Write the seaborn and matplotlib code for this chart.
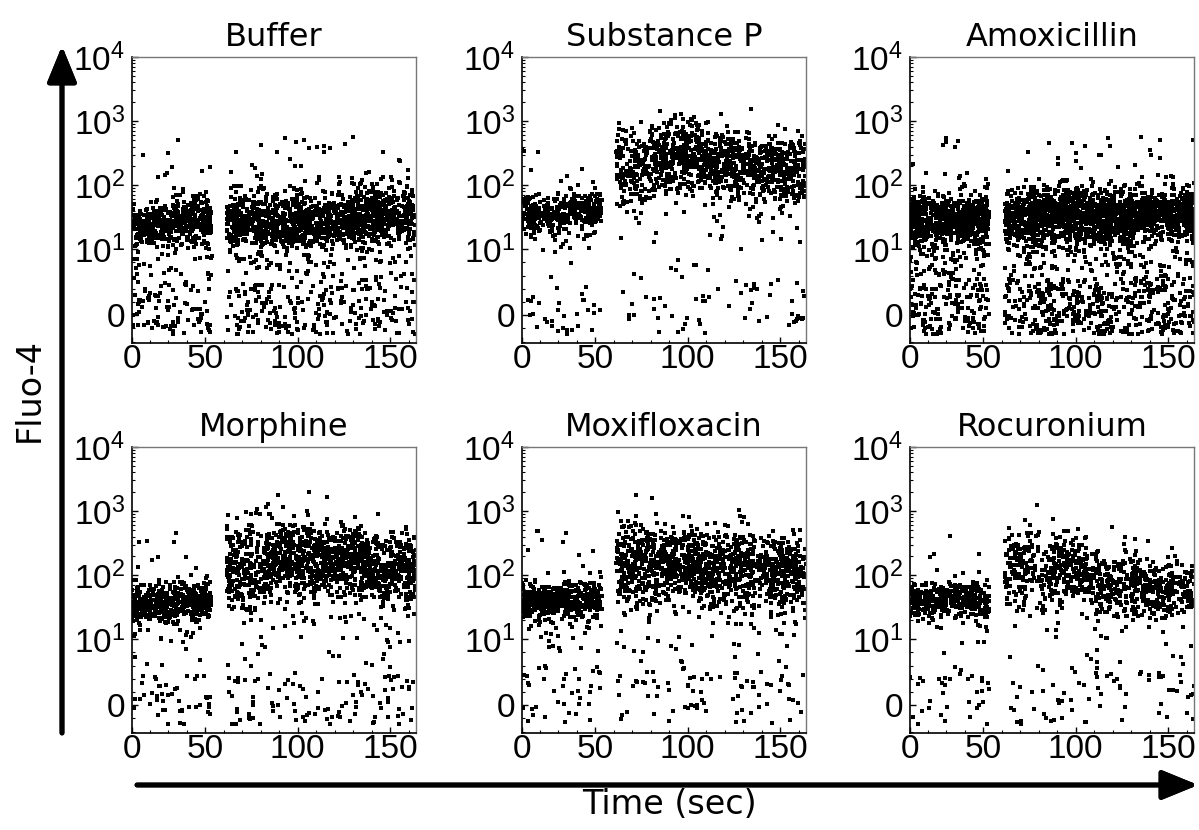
import numpy as np
import pandas as pd
import matplotlib
matplotlib.use("Agg")
import matplotlib.pyplot as plt
import matplotlib.ticker as ticker
import seaborn as sns

sns.set_style("ticks", {"xtick.direction": "in", "ytick.direction": "in"})
plt.rcParams["font.family"] = ["Liberation Sans", "DejaVu Sans"]
plt.rcParams["mathtext.fontset"] = "custom"
plt.rcParams["mathtext.rm"] = "Liberation Sans"
plt.rcParams["text.color"] = "black"
plt.rcParams["xtick.color"] = "black"
plt.rcParams["ytick.color"] = "black"

# panels and time bins (sec): two before the stimulus, four after it
panels = ["Buffer", "Substance P", "Amoxicillin", "Morphine", "Moxifloxacin", "Rocuronium"]
bin_start = [10.5, 31.5, 61.5, 82.5, 106.5, 135]
bin_end = [31.5, 53.5, 82.5, 106.5, 135, 164]

# per panel, per time bin: main population level (log10 Fluo-4), its spread,
# number of events in it, events scattered low (near 0) and high outliers
band_level = [
    [1.39, 1.46, 1.42, 1.42, 1.47, 1.51],
    [1.55, 1.58, 2.30, 2.45, 2.35, 2.26],
    [1.46, 1.48, 1.48, 1.55, 1.51, 1.58],
    [1.55, 1.58, 2.09, 2.30, 2.22, 2.09],
    [1.58, 1.61, 2.20, 2.20, 2.09, 2.05],
    [1.60, 1.61, 2.14, 2.07, 1.86, 1.77],
]
band_spread = [
    [0.17, 0.19, 0.20, 0.21, 0.21, 0.22],
    [0.14, 0.16, 0.32, 0.28, 0.28, 0.28],
    [0.19, 0.19, 0.20, 0.20, 0.19, 0.20],
    [0.15, 0.16, 0.34, 0.30, 0.30, 0.28],
    [0.14, 0.16, 0.34, 0.30, 0.30, 0.28],
    [0.14, 0.15, 0.30, 0.28, 0.25, 0.23],
]
band_count = [
    [240, 260, 260, 300, 350, 370],
    [175, 195, 195, 300, 320, 310],
    [330, 340, 330, 430, 500, 470],
    [220, 235, 235, 325, 370, 355],
    [220, 235, 270, 310, 350, 325],
    [180, 185, 155, 215, 230, 230],
]
low_count = [
    [60, 60, 65, 75, 85, 80],
    [20, 22, 14, 22, 28, 32],
    [110, 110, 115, 145, 175, 165],
    [30, 32, 32, 38, 45, 45],
    [26, 28, 28, 32, 36, 36],
    [22, 22, 16, 24, 28, 28],
]
high_count = [
    [5, 5, 12, 12, 14, 15],
    [4, 5, 0, 0, 0, 0],
    [6, 6, 6, 8, 8, 9],
    [5, 6, 0, 0, 0, 0],
    [5, 6, 0, 0, 0, 0],
    [3, 4, 2, 2, 2, 2],
]

LINSCALE = 0.928
LIN = LINSCALE / 0.9  # decades taken by 0..10 on the symlog axis


def to_value(u):
    return np.where(u > LIN, 10 ** (u - LIN + 1), u / LIN * 10)


def to_disp(logv):
    return LIN + logv - 1


rng = np.random.default_rng(7)
frames = []
for p, name in enumerate(panels):
    for b in range(6):
        t0, t1 = bin_start[b], bin_end[b]
        c, sd = band_level[p][b], band_spread[p][b]
        nb, nl, nh = band_count[p][b], low_count[p][b], high_count[p][b]
        band = 10 ** rng.normal(c, sd, nb)
        n_wide = (2 * nl) // 3
        low = np.concatenate([
            to_value(rng.uniform(-0.3, to_disp(c) - 0.3, n_wide)),
            to_value(rng.uniform(-0.3, 0.5, nl - n_wide)),
        ])
        high = 10 ** rng.uniform(c + 0.35, max(2.75, c + 0.6), nh)
        vals = np.concatenate([band, low, high])
        times = rng.uniform(t0, t1, len(vals))
        frames.append(pd.DataFrame({"panel": name, "time": times, "fluo": vals}))
df = pd.concat(frames, ignore_index=True)

W, H = 1199, 830
fig = plt.figure(figsize=(W / 100, H / 100), dpi=100)
col_left = [132, 522, 910]
row_top = [57, 447]
aw, ah = 284, 286

ytick_vals = [0, 10, 100, 1000, 10000]
ytick_text = ["0", r"$\mathregular{10^1}$", r"$\mathregular{10^2}$",
              r"$\mathregular{10^3}$", r"$\mathregular{10^4}$"]
yminor = list(range(-4, 10, 2))
for d in [10, 100, 1000]:
    yminor += [d * k for k in range(2, 10)]

x_lo, x_hi = 10.5, 164

for i, name in enumerate(panels):
    r, c = divmod(i, 3)
    ax = fig.add_axes([col_left[c] / W, 1 - (row_top[r] + ah) / H, aw / W, ah / H])
    sns.scatterplot(data=df[df["panel"] == name], x="time", y="fluo", ax=ax,
                    color="black", s=6, marker="s", linewidth=0, legend=False)
    ax.set_yscale("symlog", linthresh=10, linscale=LINSCALE)
    ax.set_ylim(-4.2, 10000)
    ax.set_xlim(x_lo, x_hi)
    ax.set_yticks(ytick_vals)
    ax.set_yticklabels(ytick_text)
    ax.yaxis.set_minor_locator(ticker.FixedLocator(yminor))
    ax.yaxis.set_minor_formatter(ticker.NullFormatter())
    # the time axis starts at the left edge, labelled 0 as in the source figure
    ax.set_xticks([x_lo, 50, 100, 150])
    ax.set_xticklabels(["0", "50", "100", "150"])
    ax.xaxis.set_minor_locator(ticker.MultipleLocator(10))
    ax.tick_params(which="major", length=4, width=1, labelsize=24, pad=5,
                   labelcolor="black")
    ax.tick_params(which="minor", length=2, width=0.8)
    ax.tick_params(axis="x", pad=1)
    ax.set_xlabel("")
    ax.set_ylabel("")
    ax.set_title(name, fontsize=23, pad=8, family="DejaVu Sans", color="black")
    for s in ["left", "bottom"]:
        ax.spines[s].set_color("black")
        ax.spines[s].set_linewidth(1.2)
    for s in ["top", "right"]:
        ax.spines[s].set_color("#777777")
        ax.spines[s].set_linewidth(1)

# big axis arrows
arrow = dict(arrowstyle="-|>,head_length=1.1,head_width=0.45", lw=3.5,
             color="black", shrinkA=0, shrinkB=0, mutation_scale=20)
fig.add_artist(plt.annotate("", xy=(62, H - 46), xytext=(62, H - 733),
                            xycoords="figure pixels", arrowprops=arrow))
fig.add_artist(plt.annotate("", xy=(1198, H - 785), xytext=(137, H - 785),
                            xycoords="figure pixels", arrowprops=arrow))
fig.text(29 / W, 1 - 390 / H, "Fluo-4", rotation=90, fontsize=24,
         family="DejaVu Sans", color="black", ha="center", va="center")
fig.text(669 / W, 1 - 804 / H, "Time (sec)", fontsize=24,
         family="DejaVu Sans", color="black", ha="center", va="center")

plt.savefig("out.png", dpi=100)
plt.close()
